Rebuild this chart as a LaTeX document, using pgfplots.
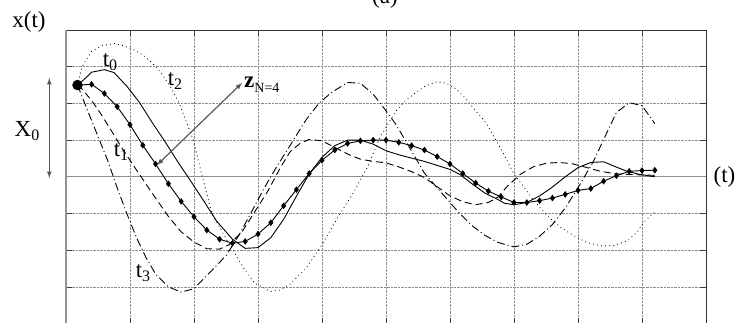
\documentclass[border=0pt]{standalone}
\usepackage{pgfplots}
\pgfplotsset{compat=1.18}
\usepackage{fontspec}
\setmainfont{Liberation Serif}
\newcommand\sub[1]{\raisebox{-0.35ex}{\fontsize{16}{16}\selectfont #1}}
\begin{document}
\begin{tikzpicture}
\begin{axis}[
  scale only axis, width=640pt, height=293.6pt,
  xmin=0, xmax=10, ymin=-4, ymax=4,
  xtick={1,...,9}, ytick={-3,...,3},
  xticklabels={}, yticklabels={},
  grid=major, grid style={densely dotted, black!45, line width=0.7pt},
  major tick length=6pt, tick align=inside,
  tick style={black!75, line width=0.8pt},
  axis line style={black!80, line width=0.8pt},
  clip=false,
]
\addplot[gray!90, line width=1.3pt] coordinates {(0,0)(10,0)};
% t0 solid
\addplot[black, line width=0.9pt] coordinates {(0.18,2.5)(0.3,2.68)(0.4,2.85)(0.6,2.92)(0.75,2.84)(0.95,2.47)(1.15,2.02)(1.35,1.47)(1.55,0.95)(1.75,0.4)(1.95,-0.12)(2.15,-0.65)(2.35,-1.2)(2.6,-1.7)(2.8,-1.95)(3.0,-1.93)(3.2,-1.66)(3.4,-1.16)(3.6,-0.53)(3.8,0.08)(4.0,0.53)(4.2,0.85)(4.4,1.0)(4.6,1.0)(4.8,0.89)(5.0,0.71)(5.2,0.6)(5.4,0.51)(5.6,0.42)(5.8,0.31)(6.0,0.2)(6.15,0.07)(6.35,-0.2)(6.55,-0.45)(6.75,-0.62)(6.85,-0.72)(7.0,-0.76)(7.2,-0.7)(7.4,-0.52)(7.6,-0.28)(7.8,0.0)(8.0,0.25)(8.2,0.39)(8.4,0.41)(8.55,0.3)(8.75,0.16)(8.95,0.07)(9.2,0.0)};
% marked solid
\addplot[black, line width=0.9pt, mark=diamond*, mark size=2.6pt] coordinates {(0.4,2.52)(0.6,2.27)(0.8,1.91)(1.0,1.42)(1.2,0.86)(1.4,0.35)(1.6,-0.19)(1.8,-0.67)(2.0,-1.09)(2.2,-1.45)(2.4,-1.70)(2.6,-1.81)(2.8,-1.76)(3.0,-1.56)(3.2,-1.25)(3.4,-0.79)(3.6,-0.35)(3.8,0.09)(4.0,0.45)(4.2,0.73)(4.4,0.91)(4.6,0.98)(4.8,1.0)(5.0,1.0)(5.2,0.94)(5.4,0.85)(5.6,0.73)(5.8,0.55)(6.0,0.35)(6.2,0.09)(6.4,-0.17)(6.6,-0.39)(6.8,-0.55)(7.0,-0.70)(7.2,-0.70)(7.4,-0.65)(7.6,-0.58)(7.8,-0.48)(8.0,-0.37)(8.2,-0.32)(8.4,-0.12)(8.6,0.03)(8.8,0.15)(9.0,0.17)(9.2,0.18)};
\addplot[black, line width=0.9pt] coordinates {(0.18,2.5)(0.4,2.52)};
% t1 dashed
\addplot[black, line width=0.9pt, dash pattern=on 7pt off 4pt] coordinates {(0.18,2.5)(0.25,2.39)(0.4,2.08)(0.55,1.7)(0.7,1.28)(0.85,0.85)(1.0,0.45)(1.2,-0.07)(1.4,-0.58)(1.6,-1.08)(1.8,-1.5)(2.0,-1.78)(2.2,-1.96)(2.4,-1.97)(2.55,-1.85)(2.75,-1.5)(2.95,-0.95)(3.15,-0.4)(3.35,0.25)(3.5,0.68)(3.65,0.9)(3.8,1.02)(4.0,0.98)(4.2,0.8)(4.4,0.62)(4.6,0.48)(4.8,0.42)(5.0,0.38)(5.2,0.27)(5.4,0.14)(5.6,-0.02)(5.8,-0.27)(6.0,-0.52)(6.2,-0.68)(6.4,-0.76)(6.6,-0.7)(6.75,-0.55)(6.9,-0.25)(7.1,0.07)(7.3,0.27)(7.5,0.37)(7.7,0.39)(7.9,0.36)(8.1,0.27)(8.35,0.15)(8.6,0.08)(9.0,0.05)(9.2,0.04)};
% t3 dash-dot
\addplot[black, line width=0.9pt, dash pattern=on 8pt off 3pt on 1pt off 3pt] coordinates {(0.18,2.5)(0.35,1.75)(0.5,1.1)(0.65,0.45)(0.8,-0.3)(0.95,-1.0)(1.1,-1.65)(1.25,-2.2)(1.4,-2.65)(1.6,-3.0)(1.8,-3.14)(2.0,-3.05)(2.25,-2.6)(2.5,-2.15)(2.7,-1.6)(2.9,-0.95)(3.1,-0.3)(3.3,0.3)(3.5,0.85)(3.75,1.55)(3.95,2.0)(4.15,2.3)(4.4,2.57)(4.6,2.55)(4.8,2.25)(5.0,1.8)(5.15,1.44)(5.3,1.0)(5.45,0.55)(5.6,0.1)(5.8,-0.3)(5.95,-0.6)(6.15,-1.0)(6.35,-1.34)(6.55,-1.6)(6.75,-1.79)(7.0,-1.91)(7.2,-1.84)(7.4,-1.62)(7.6,-1.3)(7.8,-0.85)(8.0,-0.3)(8.25,0.45)(8.45,1.2)(8.6,1.75)(8.8,2.02)(9.0,1.94)(9.2,1.45)};
% t2 dotted
\addplot[black, line width=1.1pt, line cap=round, dash pattern=on 0.1pt off 4pt] coordinates {(0.18,2.5)(0.25,3.0)(0.4,3.42)(0.55,3.57)(0.75,3.63)(0.9,3.57)(1.05,3.47)(1.2,3.32)(1.35,3.1)(1.5,2.8)(1.65,2.4)(1.77,2.0)(1.88,1.5)(1.99,1.0)(2.13,0.0)(2.28,-1.0)(2.46,-1.56)(2.61,-2.0)(2.78,-2.5)(2.95,-2.9)(3.03,-2.97)(3.2,-3.13)(3.35,-3.08)(3.5,-2.92)(3.75,-2.5)(4.0,-1.85)(4.25,-1.1)(4.5,-0.4)(4.72,0.3)(4.9,1.05)(5.05,1.5)(5.16,1.8)(5.3,2.07)(5.47,2.3)(5.62,2.48)(5.8,2.59)(5.94,2.55)(6.1,2.39)(6.25,2.12)(6.4,1.8)(6.56,1.48)(6.7,1.05)(6.84,0.62)(7.0,0.07)(7.16,-0.29)(7.31,-0.65)(7.52,-1.06)(7.73,-1.38)(7.94,-1.61)(8.14,-1.79)(8.35,-1.88)(8.55,-1.88)(8.76,-1.75)(8.92,-1.52)(9.02,-1.25)(9.2,-0.96)};
% start dot
\addplot[only marks, mark=*, mark size=5pt, black] coordinates {(0.18,2.5)};
\draw[gray!85, line width=1.6pt] (rel axis cs:0,0) -- (rel axis cs:0,1);
\end{axis}
\pgfresetboundingbox
\useasboundingbox (-66pt,1.6pt) rectangle (670pt,323.6pt);
\fontsize{23}{27}\selectfont
\node[anchor=south, inner sep=0pt] at (319pt,315pt) {(a)};
\node at (-37pt,301.6pt) {x(t)};
\node at (658.5pt,146.6pt) {(t)};
\node at (-39pt,192.6pt) {X\sub{0}};
\node at (44pt,261.6pt) {t\sub{0}};
\node at (109pt,242.6pt) {t\sub{2}};
\node at (55pt,171.6pt) {t\sub{1}};
\node at (77pt,50.6pt) {t\sub{3}};
\node[anchor=west, inner sep=0pt] at (178pt,239pt) {\textbf{z}\raisebox{-0.45ex}{\fontsize{14}{14}\selectfont N=4}};
\draw[black!65, line width=1.2pt, latex-latex] (-16.7pt,145.6pt) -- (-16.7pt,245.6pt);
\draw[black!65, line width=1.2pt, latex-latex] (91pt,158.6pt) -- (176pt,240.6pt);
\end{tikzpicture}
\end{document}
